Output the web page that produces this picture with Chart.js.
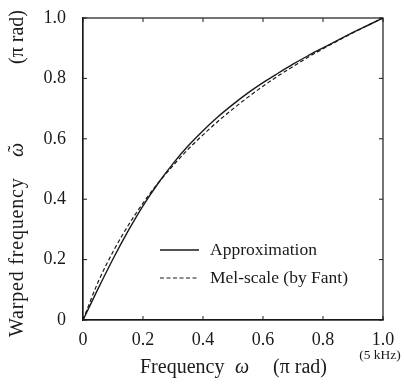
<!DOCTYPE html>
<html>
<head>
<meta charset="utf-8">
<script src="https://cdn.jsdelivr.net/npm/chart.js@4/dist/chart.umd.min.js"></script>
<style>
html,body{margin:0;padding:0;background:#fff;}
#wrap{width:404px;height:385px;}
</style>
</head>
<body>
<div id="wrap"><canvas id="c" width="404" height="385"></canvas></div>
<script>
// Frequency (π rad)
const freq = [0,0.05,0.1,0.15,0.2,0.25,0.3,0.35,0.4,0.45,0.5,0.55,0.6,0.65,0.7,0.75,0.8,0.85,0.9,0.95,1.0];
// Warped frequency, all-pass approximation (π rad)
const approx = [0,0.103,0.202,0.294,0.378,0.452,0.518,0.576,0.627,0.673,0.714,0.752,0.786,0.817,0.847,0.875,0.901,0.927,0.952,0.976,1.0];
// Warped frequency, mel-scale by Fant (π rad)
const mel = [0,0.125,0.226,0.312,0.387,0.453,0.511,0.565,0.613,0.658,0.699,0.738,0.774,0.808,0.839,0.870,0.898,0.925,0.951,0.976,1.0];
const seriesNames = ['Approximation','Mel-scale (by Fant)'];
const tickValues = [0,0.2,0.4,0.6,0.8,1.0];

const SERIF = '"Liberation Serif","Times New Roman",serif';
const INK = '#1a1a1a';

const decor = {
  id: 'decor',
  afterDraw(chart) {
    const ctx = chart.ctx, a = chart.chartArea;
    const xs = chart.scales.x, ys = chart.scales.y;
    ctx.save();
    // frame
    ctx.strokeStyle = INK; ctx.lineWidth = 1.2;
    ctx.strokeRect(a.left, a.top, a.right - a.left, a.bottom - a.top);
    // inward ticks on four sides
    ctx.lineWidth = 1;
    const tl = 4;
    tickValues.forEach(v => {
      const px = xs.getPixelForValue(v), py = ys.getPixelForValue(v);
      ctx.beginPath();
      ctx.moveTo(px, a.bottom); ctx.lineTo(px, a.bottom - tl);
      ctx.moveTo(px, a.top); ctx.lineTo(px, a.top + tl);
      ctx.moveTo(a.left, py); ctx.lineTo(a.left + tl, py);
      ctx.moveTo(a.right, py); ctx.lineTo(a.right - tl, py);
      ctx.stroke();
    });
    // (5 kHz) under 1.0
    ctx.fillStyle = INK;
    ctx.font = '13.5px ' + SERIF;
    ctx.textAlign = 'center'; ctx.textBaseline = 'middle';
    ctx.fillText('(5 kHz)', xs.getPixelForValue(1.0) - 3, 355);
    // x title
    ctx.textBaseline = 'alphabetic';
    ctx.font = '20px ' + SERIF; ctx.textAlign = 'left';
    ctx.fillText('Frequency', 140, 373);
    ctx.font = 'italic 20px ' + SERIF; ctx.textAlign = 'center';
    ctx.fillText('\u03C9', 242, 373);
    ctx.font = '20px ' + SERIF; ctx.textAlign = 'right';
    ctx.fillText('(\u03C0 rad)', 327, 373);
    // y title (rotated): screen y -> rotated x = -y
    ctx.translate(23, 0);
    ctx.rotate(-Math.PI / 2);
    ctx.font = '20px ' + SERIF; ctx.textAlign = 'left';
    if ('letterSpacing' in ctx) ctx.letterSpacing = '0.8px';
    ctx.fillText('Warped frequency', -337, 0);
    if ('letterSpacing' in ctx) ctx.letterSpacing = '0px';
    ctx.font = 'italic 20px ' + SERIF; ctx.textAlign = 'center';
    ctx.fillText('\u03C9', -150, 0);
    ctx.font = '20px ' + SERIF;
    ctx.fillText('\u02DC', -149, -1);
    ctx.textAlign = 'right';
    ctx.fillText('(\u03C0 rad)', -10, 0);
    ctx.restore();
    // legend
    ctx.save();
    const rows = [250, 278];
    chart.data.datasets.forEach((ds, i) => {
      ctx.strokeStyle = ds.borderColor; ctx.lineWidth = ds.borderWidth;
      ctx.setLineDash(ds.borderDash || []);
      ctx.beginPath(); ctx.moveTo(160, rows[i]); ctx.lineTo(199, rows[i]); ctx.stroke();
      ctx.setLineDash([]);
      ctx.fillStyle = INK; ctx.font = '17.5px ' + SERIF;
      ctx.textAlign = 'left'; ctx.textBaseline = 'middle';
      ctx.fillText(ds.label, 210, rows[i]);
    });
    ctx.restore();
  }
};

new Chart(document.getElementById('c'), {
  type: 'line',
  data: {
    datasets: [
      {label: seriesNames[0], data: freq.map((f,i)=>({x:f, y:approx[i]})), borderColor: INK, borderWidth: 1.4, pointRadius: 0, cubicInterpolationMode: 'monotone', fill: false},
      {label: seriesNames[1], data: freq.map((f,i)=>({x:f, y:mel[i]})), borderColor: INK, borderWidth: 1.2, borderDash: [4,2.5], pointRadius: 0, cubicInterpolationMode: 'monotone', fill: false}
    ]
  },
  options: {
    responsive: false,
    animation: false,
    layout: {padding: {left: 0, top: 18, right: 21, bottom: 0}},
    plugins: {legend: {display: false}, tooltip: {enabled: false}},
    scales: {
      x: {
        type: 'linear', min: 0, max: 1,
        afterBuildTicks: s => { s.ticks = tickValues.map(v => ({value: v})); },
        afterFit: s => { s.height = 65; s.paddingLeft = 0; s.paddingRight = 0; },
        grid: {display: false, drawTicks: false},
        border: {display: true, color: INK, width: 1.2},
        ticks: {
          color: INK, padding: 9, maxRotation: 0,
          font: {family: SERIF, size: 18},
          callback: v => v === 0 ? '0' : v.toFixed(1)
        }
      },
      y: {
        type: 'linear', min: 0, max: 1,
        afterBuildTicks: s => { s.ticks = tickValues.map(v => ({value: v})); },
        afterFit: s => { s.width = 83; s.paddingTop = 0; s.paddingBottom = 0; },
        grid: {display: false, drawTicks: false},
        border: {display: true, color: INK, width: 1.2},
        ticks: {
          color: INK, padding: 17,
          font: {family: SERIF, size: 18},
          callback: v => v === 0 ? '0' : v.toFixed(1)
        }
      }
    }
  },
  plugins: [decor]
});
</script>
</body>
</html>
